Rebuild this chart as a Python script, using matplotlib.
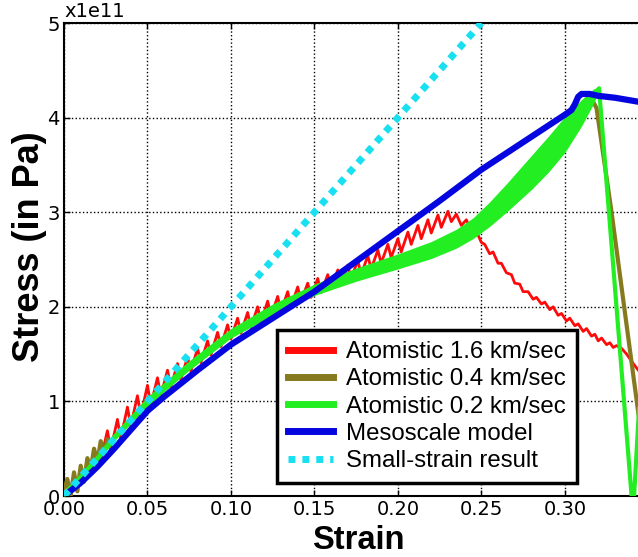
import numpy as np
import matplotlib
matplotlib.use("Agg")
import matplotlib.pyplot as plt

# values (stress in units of 1e11 Pa)
small_x = [0.0, 0.25]
small_y = [0.0, 5.0]

blue_x = [0, 0.01, 0.02, 0.03, 0.04, 0.05, 0.06, 0.08, 0.10, 0.125, 0.15, 0.175,
          0.20, 0.225, 0.25, 0.275, 0.30, 0.304, 0.306, 0.308, 0.310, 0.315, 0.32,
          0.33, 0.34, 0.36]
blue_y = [0, 0.14, 0.31, 0.5, 0.7, 0.9, 1.05, 1.33, 1.6, 1.88, 2.16, 2.48,
          2.8, 3.12, 3.45, 3.74, 4.03, 4.08, 4.14, 4.22, 4.25, 4.25, 4.23,
          4.21, 4.18, 4.12]

green_x = [0, 0.01, 0.02, 0.03, 0.05, 0.075, 0.10, 0.125, 0.15, 0.175, 0.20, 0.22,
           0.235, 0.245, 0.255, 0.265, 0.28, 0.29, 0.30, 0.31, 0.317, 0.3205]
green_y = [0.02, 0.2, 0.4, 0.62, 1.0, 1.38, 1.72, 1.97, 2.18, 2.34, 2.48, 2.6,
           2.72, 2.83, 2.98, 3.15, 3.42, 3.61, 3.82, 4.05, 4.22, 4.31]
green_hw = [0.03, 0.03, 0.04, 0.04, 0.05, 0.05, 0.05, 0.06, 0.06, 0.07, 0.08, 0.09,
            0.10, 0.11, 0.13, 0.15, 0.18, 0.19, 0.19, 0.14, 0.08, 0.02]
green_drop_x = [0.3205, 0.340, 0.3415, 0.352]
green_drop_y = [4.31, 0.0, 0.0, 3.3]

brown_x = [0, 0.002, 0.004, 0.006, 0.008, 0.010, 0.012, 0.014, 0.016, 0.018, 0.020,
           0.022, 0.024, 0.026, 0.028, 0.030, 0.035, 0.05, 0.075, 0.10, 0.125, 0.15,
           0.175, 0.20, 0.22, 0.235, 0.245, 0.255, 0.265, 0.28, 0.29, 0.30, 0.31, 0.316,
           0.319, 0.328, 0.344, 0.352]
brown_y = [0.05, 0.18, 0.0, 0.25, 0.05, 0.32, 0.15, 0.40, 0.28, 0.50, 0.36,
           0.58, 0.45, 0.60, 0.52, 0.62, 0.70, 0.98, 1.38, 1.72, 1.97, 2.18,
           2.34, 2.48, 2.62, 2.76, 2.88, 3.05, 3.24, 3.52, 3.70, 3.88, 4.08, 4.2,
           4.1, 3.0, 0.88, 0.0]

red_x = [0.000, 0.010, 0.018, 0.022, 0.026, 0.028, 0.032, 0.034, 0.038, 0.040, 0.044,
         0.046, 0.050, 0.052, 0.056, 0.058, 0.062, 0.064, 0.068, 0.070, 0.074, 0.076,
         0.080, 0.082, 0.086, 0.088, 0.092, 0.094, 0.098, 0.100, 0.104, 0.106, 0.110,
         0.112, 0.116, 0.118, 0.122, 0.124, 0.128, 0.130, 0.134, 0.136, 0.140, 0.142,
         0.146, 0.148, 0.152, 0.154, 0.158, 0.160, 0.164, 0.166, 0.170, 0.172, 0.176,
         0.178, 0.182, 0.184, 0.188, 0.190, 0.194, 0.196, 0.200, 0.202, 0.206, 0.208,
         0.212, 0.214, 0.218, 0.220, 0.224, 0.226, 0.230, 0.232, 0.235, 0.238, 0.241,
         0.244, 0.247, 0.250, 0.252, 0.255, 0.257, 0.260, 0.262, 0.265, 0.268, 0.270,
         0.273, 0.275, 0.278, 0.281, 0.283, 0.286, 0.288, 0.291, 0.293, 0.296, 0.298,
         0.301, 0.303, 0.306, 0.308, 0.311, 0.313, 0.316, 0.318, 0.320, 0.322, 0.325,
         0.327, 0.329, 0.331, 0.334, 0.337, 0.341, 0.344, 0.350]
red_y = [0.00, 0.18, 0.33, 0.38, 0.69, 0.49, 0.81, 0.61, 0.94, 0.74, 1.06,
         0.85, 1.17, 0.96, 1.25, 1.06, 1.33, 1.15, 1.40, 1.23, 1.47, 1.32,
         1.56, 1.41, 1.64, 1.49, 1.73, 1.58, 1.81, 1.66, 1.88, 1.72, 1.94,
         1.78, 2.00, 1.84, 2.06, 1.90, 2.11, 1.95, 2.16, 2.00, 2.21, 2.06,
         2.25, 2.10, 2.30, 2.15, 2.34, 2.20, 2.39, 2.25, 2.44, 2.30, 2.49,
         2.34, 2.54, 2.40, 2.60, 2.46, 2.66, 2.52, 2.72, 2.58, 2.79, 2.66,
         2.86, 2.72, 2.92, 2.78, 2.97, 2.84, 3.01, 2.90, 2.98, 2.86, 2.92,
         2.80, 2.80, 2.68, 2.66, 2.56, 2.58, 2.46, 2.46, 2.36, 2.34, 2.25,
         2.24, 2.16, 2.16, 2.08, 2.10, 2.03, 2.05, 1.97, 2.00, 1.91, 1.93,
         1.85, 1.88, 1.80, 1.82, 1.74, 1.77, 1.69, 1.71, 1.64, 1.67, 1.60,
         1.62, 1.57, 1.59, 1.56, 1.50, 1.40, 1.33, 1.20]

labels = ["Atomistic 1.6 km/sec", "Atomistic 0.4 km/sec", "Atomistic 0.2 km/sec",
          "Mesoscale model", "Small-strain result"]
xticks = [0.0, 0.05, 0.10, 0.15, 0.20, 0.25, 0.30]
yticks = [0, 1, 2, 3, 4, 5]

c_red = "#FF0A0A"
c_brown = "#857A1E"
c_green = "#22EE22"
c_blue = "#0505E0"
c_cyan = "#18E0F0"

fig = plt.figure(figsize=(6.38, 5.57), dpi=100)
# axes run past the right edge, as in the cropped original
ax = fig.add_axes([0.1003, 0.1095, 0.942, 0.8492])

ax.plot(red_x, red_y, color=c_red, lw=2, zorder=2, label=labels[0])
ax.plot(brown_x, brown_y, color=c_brown, lw=3, zorder=3, label=labels[1])
gx = np.array(green_x)
gy = np.array(green_y)
gh = np.array(green_hw)
ax.fill_between(gx, gy - gh, gy + gh, color=c_green, lw=0, zorder=4)
ax.plot(green_x + green_drop_x, green_y + green_drop_y, color=c_green, lw=3,
        zorder=4, label=labels[2])
ax.plot(blue_x, blue_y, color=c_blue, lw=4.5, zorder=5, label=labels[3])
ax.plot(small_x, small_y, color=c_cyan, lw=5, linestyle=(0, (1, 1)), zorder=6,
        label=labels[4])

ax.set_xlim(0, 0.36)
ax.set_ylim(0, 5)
ax.set_xticks(xticks)
ax.set_xticklabels(["%.2f" % t for t in xticks])
ax.set_yticks(yticks)
ax.tick_params(direction="in", top=True, right=False, labelsize=14, length=4,
               width=1, pad=3)
ax.grid(True, linestyle=":", color="k", linewidth=1)
ax.set_axisbelow(True)
for s in ax.spines.values():
    s.set_linewidth(1.5)

ax.text(0.0, 1.004, "x1e11", transform=ax.transAxes, ha="left", va="bottom",
        fontsize=14)

ax.set_xlabel("Strain", fontsize=23.5, fontweight="bold", family="Liberation Sans")
ax.set_ylabel("Stress (in Pa)", fontsize=26, fontweight="bold", family="Liberation Sans")
ax.xaxis.set_label_coords(0.489, -0.061)
ax.yaxis.set_label_coords(-0.029, 0.528)

leg = ax.legend(loc="lower left", bbox_to_anchor=(0.354, 0.0275), borderaxespad=0,
                prop={"family": "Liberation Sans", "size": 17.3}, fancybox=False,
                framealpha=1, edgecolor="k", handlelength=1.9, handletextpad=0.55,
                labelspacing=0.22, borderpad=0.45)
leg.get_frame().set_linewidth(2.5)
for ln in leg.get_lines():
    ln.set_linewidth(5)

fig.savefig("out.png", dpi=100)
